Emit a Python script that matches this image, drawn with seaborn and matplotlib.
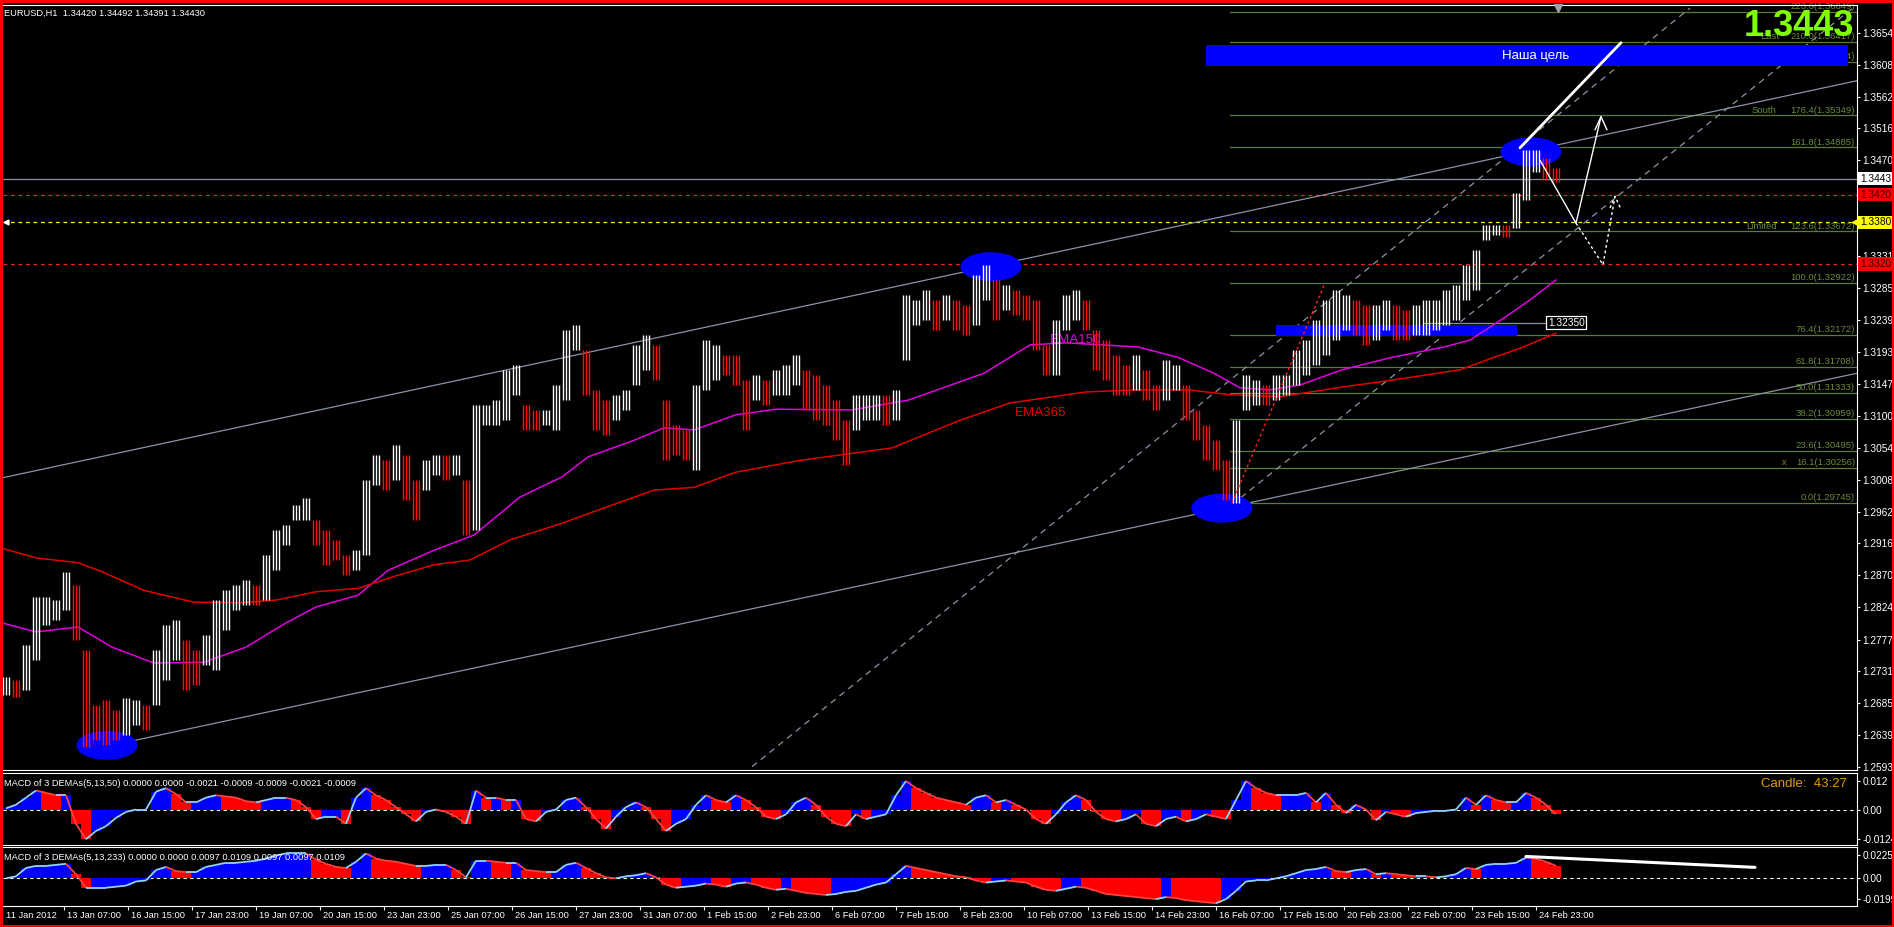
import matplotlib
matplotlib.use("Agg")
import matplotlib.pyplot as plt
import matplotlib.transforms as mtransforms
import numpy as np
import seaborn as sns
from matplotlib.patches import Ellipse, Rectangle
from matplotlib.collections import LineCollection

# --- EURUSD H1 price ranges, one entry per block of 5 hourly bars ---
bar_hi = [
    1.2723, 1.2718, 1.2769, 1.2838, 1.2838, 1.2834, 1.2875, 1.2856, 1.2762, 1.2682,
    1.2690, 1.2675, 1.2692, 1.2690, 1.2682, 1.2762, 1.2798, 1.2805, 1.2776, 1.2762,
    1.2783, 1.2834, 1.2849, 1.2856, 1.2863, 1.2856, 1.2899, 1.2935, 1.2942, 1.2971,
    1.2981, 1.2950, 1.2935, 1.2921, 1.2899, 1.2906, 1.3008, 1.3044, 1.3036, 1.3058,
    1.3044, 1.3008, 1.3036, 1.3044, 1.3044, 1.3044, 1.3008, 1.3116, 1.3116, 1.3123,
    1.3167, 1.3174, 1.3116, 1.3109, 1.3109, 1.3145, 1.3225, 1.3232, 1.3196, 1.3138,
    1.3123, 1.3131, 1.3138, 1.3203, 1.3218, 1.3203, 1.3123, 1.3087, 1.3080, 1.3145,
    1.3210, 1.3203, 1.3188, 1.3188, 1.3152, 1.3159, 1.3152, 1.3167, 1.3174, 1.3188,
    1.3167, 1.3159, 1.3145, 1.3123, 1.3094, 1.3131, 1.3131, 1.3131, 1.3131, 1.3138,
    1.3275, 1.3268, 1.3282, 1.3268, 1.3275, 1.3268, 1.3261, 1.3304, 1.3319, 1.3297,
    1.3290, 1.3282, 1.3275, 1.3268, 1.3203, 1.3239, 1.3275, 1.3282, 1.3268, 1.3225,
    1.3210, 1.3188, 1.3174, 1.3188, 1.3167, 1.3145, 1.3181, 1.3174, 1.3145, 1.3109,
    1.3087, 1.3065, 1.3036, 1.3094, 1.3159, 1.3152, 1.3145, 1.3159, 1.3159, 1.3196,
    1.3210, 1.3239, 1.3268, 1.3282, 1.3275, 1.3268, 1.3261, 1.3261, 1.3268, 1.3261,
    1.3253, 1.3261, 1.3268, 1.3268, 1.3282, 1.3290, 1.3319, 1.3340, 1.3376, 1.3376,
    1.3376, 1.3423, 1.3485, 1.3485, 1.3473, 1.3459]
bar_lo = [
    1.2697, 1.2694, 1.2704, 1.2747, 1.2798, 1.2805, 1.2820, 1.2776, 1.2622, 1.2632,
    1.2624, 1.2632, 1.2639, 1.2653, 1.2646, 1.2682, 1.2718, 1.2747, 1.2704, 1.2711,
    1.2740, 1.2733, 1.2791, 1.2820, 1.2827, 1.2827, 1.2834, 1.2877, 1.2914, 1.2950,
    1.2950, 1.2914, 1.2885, 1.2892, 1.2870, 1.2877, 1.2899, 1.3000, 1.2993, 1.3008,
    1.2979, 1.2950, 1.2993, 1.3015, 1.3008, 1.3015, 1.2928, 1.2935, 1.3087, 1.3087,
    1.3094, 1.3131, 1.3080, 1.3080, 1.3087, 1.3080, 1.3123, 1.3196, 1.3131, 1.3080,
    1.3073, 1.3094, 1.3109, 1.3145, 1.3167, 1.3152, 1.3036, 1.3044, 1.3036, 1.3022,
    1.3138, 1.3152, 1.3159, 1.3145, 1.3080, 1.3123, 1.3116, 1.3131, 1.3131, 1.3145,
    1.3109, 1.3094, 1.3087, 1.3065, 1.3029, 1.3080, 1.3094, 1.3094, 1.3087, 1.3094,
    1.3181, 1.3232, 1.3239, 1.3225, 1.3239, 1.3225, 1.3217, 1.3232, 1.3268, 1.3239,
    1.3253, 1.3246, 1.3239, 1.3196, 1.3159, 1.3159, 1.3225, 1.3239, 1.3225, 1.3167,
    1.3152, 1.3131, 1.3131, 1.3138, 1.3123, 1.3109, 1.3123, 1.3138, 1.3094, 1.3065,
    1.3036, 1.3022, 1.2979, 1.2975, 1.3109, 1.3116, 1.3116, 1.3123, 1.3131, 1.3145,
    1.3159, 1.3174, 1.3188, 1.3210, 1.3225, 1.3217, 1.3203, 1.3210, 1.3225, 1.3210,
    1.3210, 1.3217, 1.3217, 1.3225, 1.3232, 1.3239, 1.3268, 1.3282, 1.3355, 1.3362,
    1.3359, 1.3372, 1.3413, 1.3453, 1.3441, 1.3439]

# MACD of 3 DEMAs (5,13,50) and (5,13,233), same 5-bar blocks
macd_fast = [
    0.0005, 0.002, 0.005, 0.008, 0.007, 0.006, 0.006, -0.006, -0.0125, -0.009,
    -0.007, -0.0035, -0.001, 0.0, 0.0, 0.0075, 0.009, 0.0065, 0.003, 0.003,
    0.005, 0.006, 0.0055, 0.005, 0.0035, 0.003, 0.004, 0.005, 0.005, 0.004,
    0.001, -0.004, -0.003, -0.003, -0.006, 0.005, 0.009, 0.006, 0.004, 0.001,
    -0.002, -0.005, -0.001, 0.0, -0.001, -0.003, -0.006, 0.008, 0.005, 0.005,
    0.004, 0.004, -0.004, -0.005, -0.001, 0.0, 0.004, 0.005, 0.001, -0.004,
    -0.008, -0.003, 0.001, 0.003, 0.001, -0.004, -0.009, -0.006, -0.004, 0.002,
    0.006, 0.004, 0.003, 0.006, 0.004, 0.001, -0.003, -0.004, -0.002, 0.003,
    0.005, 0.002, -0.003, -0.006, -0.007, -0.002, -0.004, -0.003, -0.002, 0.006,
    0.012, 0.009, 0.007, 0.005, 0.004, 0.003, 0.002, 0.005, 0.006, 0.003,
    0.004, 0.002, 0.0, -0.004, -0.006, -0.002, 0.003, 0.006, 0.004, -0.001,
    -0.004, -0.005, -0.004, -0.002, -0.006, -0.007, -0.004, -0.003, -0.005, -0.004,
    -0.002, -0.003, -0.004, 0.004, 0.012, 0.009, 0.007, 0.006, 0.006, 0.006,
    0.007, 0.003, 0.007, 0.002, -0.0015, 0.002, 0.0, -0.0045, -0.001, -0.002,
    -0.003, -0.0015, -0.001, -0.0005, -0.0005, 0.0, 0.005, 0.002, 0.006, 0.004,
    0.003, 0.003, 0.007, 0.005, 0.002, -0.002]
macd_slow = [
    0.0, 0.002, 0.010, 0.012, 0.012, 0.013, 0.014, 0.004, -0.009, -0.009,
    -0.009, -0.008, -0.007, -0.003, -0.002, 0.008, 0.011, 0.007, 0.006, 0.006,
    0.011, 0.013, 0.015, 0.015, 0.016, 0.017, 0.019, 0.022, 0.024, 0.024,
    0.024, 0.018, 0.014, 0.011, 0.010, 0.016, 0.024, 0.019, 0.017, 0.016,
    0.014, 0.012, 0.012, 0.013, 0.013, 0.008, 0.001, 0.017, 0.017, 0.016,
    0.015, 0.015, 0.008, 0.007, 0.006, 0.006, 0.013, 0.015, 0.010, 0.005,
    0.001, 0.0, 0.002, 0.003, 0.005, 0.001, -0.006, -0.009, -0.008, -0.007,
    -0.005, -0.006, -0.008, -0.005, -0.004, -0.006, -0.009, -0.011, -0.010, -0.012,
    -0.014, -0.015, -0.016, -0.015, -0.013, -0.012, -0.009, -0.006, -0.004, 0.004,
    0.012, 0.010, 0.008, 0.006, 0.004, 0.002, 0.001, -0.002, -0.004, -0.003,
    -0.002, -0.003, -0.004, -0.008, -0.011, -0.012, -0.010, -0.008, -0.009, -0.012,
    -0.015, -0.016, -0.017, -0.018, -0.019, -0.020, -0.018, -0.019, -0.021, -0.022,
    -0.023, -0.024, -0.020, -0.012, -0.003, -0.002, -0.002, 0.0, 0.002, 0.005,
    0.008, 0.009, 0.011, 0.007, 0.006, 0.008, 0.009, 0.004, 0.005, 0.004,
    0.003, 0.002, 0.002, 0.001, 0.002, 0.004, 0.010, 0.009, 0.013, 0.014,
    0.014, 0.015, 0.020, 0.019, 0.016, 0.012]

# moving averages (bar index, price)
ema150_bar = [-2, 15, 36, 53, 74, 99, 120, 140, 155, 176, 191, 214, 234, 257, 278, 291,
              314, 329, 344, 365, 385, 423, 451, 489, 512, 530, 566, 586, 604, 617,
              632, 647, 668, 693, 719, 732, 749, 762, 775]
ema150 = [1.2801, 1.2788, 1.2795, 1.2766, 1.2743, 1.2744, 1.2766, 1.2801, 1.2824, 1.2841,
          1.2877, 1.2906, 1.2928, 1.2983, 1.3012, 1.3041, 1.3065, 1.3083, 1.3080, 1.3102,
          1.3110, 1.3109, 1.3123, 1.3162, 1.3203, 1.3206, 1.3200, 1.3185, 1.3162, 1.3141,
          1.3138, 1.3145, 1.3167, 1.3185, 1.3200, 1.3210, 1.3242, 1.3268, 1.3297]
ema365_bar = [-2, 15, 36, 48, 69, 94, 117, 135, 155, 176, 196, 214, 232, 252, 278, 293,
              324, 344, 365, 397, 443, 477, 502, 540, 566, 591, 612, 637, 668, 693,
              727, 744, 757, 775]
ema365 = [1.2909, 1.2895, 1.2888, 1.2875, 1.2848, 1.2831, 1.2830, 1.2834, 1.2846, 1.2851,
          1.2870, 1.2885, 1.2892, 1.2921, 1.2945, 1.2961, 1.2993, 1.2997, 1.3019, 1.3036,
          1.3054, 1.3094, 1.3119, 1.3135, 1.3138, 1.3138, 1.3131, 1.3128, 1.3142, 1.3152,
          1.3167, 1.3185, 1.3198, 1.3220]

# Fibonacci levels drawn from the 16 Feb low
fib_names = ["0.0", "16.1", "23.6", "38.2", "50.0", "61.8", "76.4", "100.0",
             "123.6", "161.8", "176.4", "200.8", "210.0", "223.6"]
fib_prices = [1.29745, 1.30256, 1.30495, 1.30959, 1.31333, 1.31708, 1.32172, 1.32922,
              1.33672, 1.34885, 1.35349, 1.36124, 1.36417, 1.36849]
fib_tags = {"16.1": ("x", 888), "123.6": ("Limited", 870),
            "176.4": ("South", 873), "210.0": ("East", 877)}

price_ticks = [1.2593, 1.2639, 1.2685, 1.2731, 1.2777, 1.2824, 1.2870, 1.2916, 1.2962,
               1.3008, 1.3054, 1.3100, 1.3147, 1.3193, 1.3239, 1.3285, 1.3331, 1.3377,
               1.3424, 1.3470, 1.3516, 1.3562, 1.3608, 1.3654]
time_labels = ["11 Jan 2012", "13 Jan 07:00", "16 Jan 15:00", "17 Jan 23:00",
               "19 Jan 07:00", "20 Jan 15:00", "23 Jan 23:00", "25 Jan 07:00",
               "26 Jan 15:00", "27 Jan 23:00", "31 Jan 07:00", "1 Feb 15:00",
               "2 Feb 23:00", "6 Feb 07:00", "7 Feb 15:00", "8 Feb 23:00",
               "10 Feb 07:00", "13 Feb 15:00", "14 Feb 23:00", "16 Feb 07:00",
               "17 Feb 15:00", "20 Feb 23:00", "22 Feb 07:00", "23 Feb 15:00",
               "24 Feb 23:00"]

# drawn objects (bar index, price)
channel_upper = [(-1.5, 1.3011), (925.5, 1.3585)]
channel_lower = [(49.5, 1.2622), (925.5, 1.3162)]
fork_a = [(373, 1.2593), (842, 1.3690)]
fork_b = [(613, 1.2972), (925.5, 1.3695)]
fib_trend = [(613, 1.29745), (659.5, 1.32922)]
target_path = [(757, 1.3488), (807.5, 1.3640)]
scenario_main = [(767, 1.3470), (785, 1.3379), (797.5, 1.3533)]
scenario_alt = [(785, 1.3379), (798.5, 1.3319), (804.5, 1.3418)]
h_levels = {"bid": 1.3443, "red1": 1.3420, "yellow": 1.3380, "red2": 1.3320}
marked_points = [(50.5, 1.2624), (492.5, 1.3316), (608, 1.2967), (762.5, 1.3482)]
target_zone = (600, 921, 1.36063, 1.36366)
support_zone = (635, 755.5, 1.32158, 1.32317)
support_level = 1.32350
slope_macd2 = [(760, 0.0211), (874.5, 0.0106)]

W, H = 1894, 927
FONT = ["Liberation Sans", "DejaVu Sans"]
sns.set_theme(style="dark", rc={"axes.facecolor": "black", "figure.facecolor": "black"})
plt.rcParams["font.family"] = FONT

fig = plt.figure(figsize=(W / 100, H / 100), dpi=100, facecolor="black")


def box(top, bottom, left=3, right=1857):
    return [left / W, 1 - bottom / H, (right - left) / W, (bottom - top) / H]


ax = fig.add_axes(box(5, 770))
ax1 = fig.add_axes(box(773, 845))
ax2 = fig.add_axes(box(847, 906))

for a in (ax, ax1, ax2):
    a.set_facecolor("black")
    a.set_xlim(-1.5, 925.5)
    a.grid(False)
    a.spines["left"].set_visible(False)
    for s in ("top", "right", "bottom"):
        a.spines[s].set_color("white")
        a.spines[s].set_linewidth(0.8)
    a.yaxis.tick_right()
    a.tick_params(axis="y", colors="white", labelsize=7.3, length=2, width=0.8, pad=2)
    a.tick_params(axis="x", bottom=False, labelbottom=False)

# ---------------- main price panel ----------------
ax.set_ylim(1.25883, 1.36945)
ax.set_yticks(price_ticks)
ax.set_yticklabels([f"{p:.4f}" for p in price_ticks])

olive = "#5b7a34"
steel = "#8a93a6"
for name, p in zip(fib_names, fib_prices):
    ax.plot([612, 925.5], [p, p], color=olive, lw=0.9, zorder=1)
    ax.text(924.5, p + 0.00012, f"{name}({p:.5f})", color="#6b8a3a", fontsize=6.8,
            ha="right", va="bottom", zorder=2)
    if name in fib_tags:
        tag, tx = fib_tags[name]
        ax.text(tx, p + 0.00012, tag, color="#6b8a3a", fontsize=6.8,
                ha="left", va="bottom", zorder=2)

ax.axhline(h_levels["bid"], color=steel, lw=0.9, zorder=1)
ax.axhline(h_levels["red1"], color="#ff2020", lw=0.9, ls=(0, (3, 3)), zorder=1)
ax.axhline(h_levels["yellow"], color="#ffff00", lw=0.9, ls=(0, (3, 3)), zorder=1)
ax.axhline(h_levels["red2"], color="#ff2020", lw=0.9, ls=(0, (3, 3)), zorder=1)
ax.plot([924.5], [h_levels["yellow"]], marker="<", color="#ffff00", ms=4, zorder=6,
        clip_on=False)
ax.plot([0], [h_levels["yellow"]], marker="<", color="white", ms=3.5, zorder=6)

for line, style in ((channel_upper, "-"), (channel_lower, "-"),
                    (fork_a, (0, (5, 4))), (fork_b, (0, (5, 4)))):
    xs, ys = zip(*line)
    ax.plot(xs, ys, color=steel, lw=0.9, ls=style, zorder=1)

# blue zones and marked turning points
for x0, x1, y0, y1 in (target_zone, support_zone):
    ax.add_patch(Rectangle((x0, y0), x1 - x0, y1 - y0, color="#0000ff", lw=0, zorder=2))
ax.text((target_zone[0] + target_zone[1]) / 2 + 4.5, (target_zone[2] + target_zone[3]) / 2,
        "Наша цель", color="white", fontsize=9.5, ha="center", va="center", zorder=3)
for bx, py in marked_points:
    ax.add_patch(Ellipse((bx, py), 30.5, 0.0042, color="#0000ff", lw=0, zorder=2))

ax.plot([709, 770], [support_level] * 2, color=steel, lw=0.9, zorder=3)
ax.text(771, support_level, f"{support_level:.5f}", color="white", fontsize=7.3,
        ha="left", va="center", zorder=4,
        bbox=dict(boxstyle="square,pad=0.15", fc="black", ec="white", lw=0.9))

# moving averages
sns.lineplot(x=ema150_bar, y=ema150, ax=ax, color="#e000e0", lw=1.1, zorder=3)
sns.lineplot(x=ema365_bar, y=ema365, ax=ax, color="#e00000", lw=1.1, zorder=3)
ax.text(522, 1.3210, "EMA150", color="#e000e0", fontsize=9.6, va="center", zorder=4)
ax.text(504.5, 1.3105, "EMA365", color="#e00000", fontsize=9.6, va="center", zorder=4)

# price bars: each 5-hour block drawn as thin hourly-style strokes over its range
seg_x = np.arange(len(bar_hi)) * 5
mid = (np.array(bar_hi) + np.array(bar_lo)) / 2
rising = np.r_[True, mid[1:] >= mid[:-1]]
block_col = np.where(rising, "white", "#ff1010")
for off in (-1.7, 0.0, 1.7):
    ax.vlines(seg_x + off, bar_lo, bar_hi, colors=block_col, lw=1.0, zorder=4)

# analysis drawings
xs, ys = zip(*fib_trend)
ax.plot(xs, ys, color="#ff2020", lw=1.0, ls=(0, (2, 2)), zorder=5)
xs, ys = zip(*target_path)
ax.plot(xs, ys, color="white", lw=2.0, zorder=5)
xs, ys = zip(*scenario_main)
ax.plot(xs, ys, color="white", lw=1.0, zorder=5)
tip = scenario_main[-1]
ax.plot([tip[0] - 3, tip[0], tip[0] + 3], [tip[1] - 0.0019, tip[1], tip[1] - 0.0019],
        color="white", lw=1.0, zorder=5)
xs, ys = zip(*scenario_alt)
ax.plot(xs, ys, color="white", lw=1.0, ls=(0, (2, 2)), zorder=5)
tip = scenario_alt[-1]
ax.plot([tip[0] - 2.5, tip[0], tip[0] + 3], [tip[1] - 0.0017, tip[1], tip[1] - 0.0019],
        color="white", lw=1.0, ls=(0, (2, 2)), zorder=5)
ax.plot([776], [1.3690], marker="v", color="#9aa0a8", ms=6, zorder=5, clip_on=False)


def price_tag(a, price, text, fc, tc):
    a.annotate(text, xy=(1.0, price), xycoords=("axes fraction", "data"),
               xytext=(3, 0), textcoords="offset pixels", ha="left", va="center",
               fontsize=7.3, color=tc, annotation_clip=False, zorder=10,
               bbox=dict(boxstyle="square,pad=0.15", fc=fc, ec="none"))


price_tag(ax, h_levels["bid"], "1.3443", "white", "black")
price_tag(ax, h_levels["red1"], "1.3420", "#ff0000", "#300000")
price_tag(ax, h_levels["yellow"], "1.3380", "#ffff00", "black")
price_tag(ax, h_levels["red2"], "1.3320", "#ff0000", "#300000")

# ---------------- MACD panels ----------------
def macd_panel(a, values, ylim, ticks, labels):
    vals = np.array(values)
    up = np.r_[True, vals[1:] >= vals[:-1]]
    a.bar(seg_x, vals, width=5, color=np.where(up, "#0000ff", "#ff0000"), lw=0, zorder=2)
    pts = np.column_stack([seg_x, vals])
    segs = np.stack([pts[:-1], pts[1:]], axis=1)
    a.add_collection(LineCollection(segs, colors=np.where(up[1:], "#8fd3ff", "#ff4040"),
                                    lw=1.3, zorder=3))
    a.axhline(0, color="white", lw=0.8, ls=(0, (3, 3)), zorder=1)
    a.set_ylim(*ylim)
    a.set_yticks(ticks)
    a.set_yticklabels(labels)


macd_panel(ax1, macd_fast, (-0.01492, 0.01537), [0.012, 0.0, -0.0124],
           ["0.012", "0.00", "-0.0124"])
macd_panel(ax2, macd_slow, (-0.0266, 0.0302), [0.0225, 0.0, -0.0199],
           ["0.0225", "0.00", "-0.0199"])
xs, ys = zip(*slope_macd2)
ax2.plot(xs, ys, color="white", lw=2.2, zorder=4)

# time axis
tick_bars = [32 * k - 3 for k in range(len(time_labels))]
ax2.set_xticks(tick_bars[1:])
ax2.tick_params(axis="x", bottom=True, length=3, width=0.8, color="white", labelbottom=False)
trans = mtransforms.blended_transform_factory(ax2.transData, fig.transFigure)
for b, lab in zip(tick_bars, time_labels):
    ax2.text(max(b, -1.5) + 1.5, 1 - 915 / H, lab, transform=trans, color="white",
             fontsize=6.7, ha="left", va="center", clip_on=False)

# ---------------- texts ----------------
fig.text(4 / W, 1 - 13 / H, "EURUSD,H1  1.34420 1.34492 1.34391 1.34430",
         color="white", fontsize=6.7, va="center")
fig.text(4 / W, 1 - 783 / H,
         "MACD of 3 DEMAs(5,13,50) 0.0000 0.0000 -0.0021 -0.0009 -0.0009 -0.0021 -0.0009",
         color="white", fontsize=6.7, va="center")
fig.text(4 / W, 1 - 857 / H,
         "MACD of 3 DEMAs(5,13,233) 0.0000 0.0000 0.0097 0.0109 0.0097 0.0097 0.0109",
         color="white", fontsize=6.7, va="center")
fig.text(1847 / W, 1 - 784 / H, "Candle:  43:27", color="#e39a00", fontsize=9.5,
         ha="right", va="center")
fig.text(1854 / W, 1 - 27 / H, "1.3443", color="#80ff00", fontsize=26,
         fontweight="bold", ha="right", va="center")

fig.add_artist(Rectangle((0, 0), 1, 1, transform=fig.transFigure, fill=False,
                         ec="#ff0000", lw=3.6))

fig.savefig("out.png", dpi=100, facecolor="black")
